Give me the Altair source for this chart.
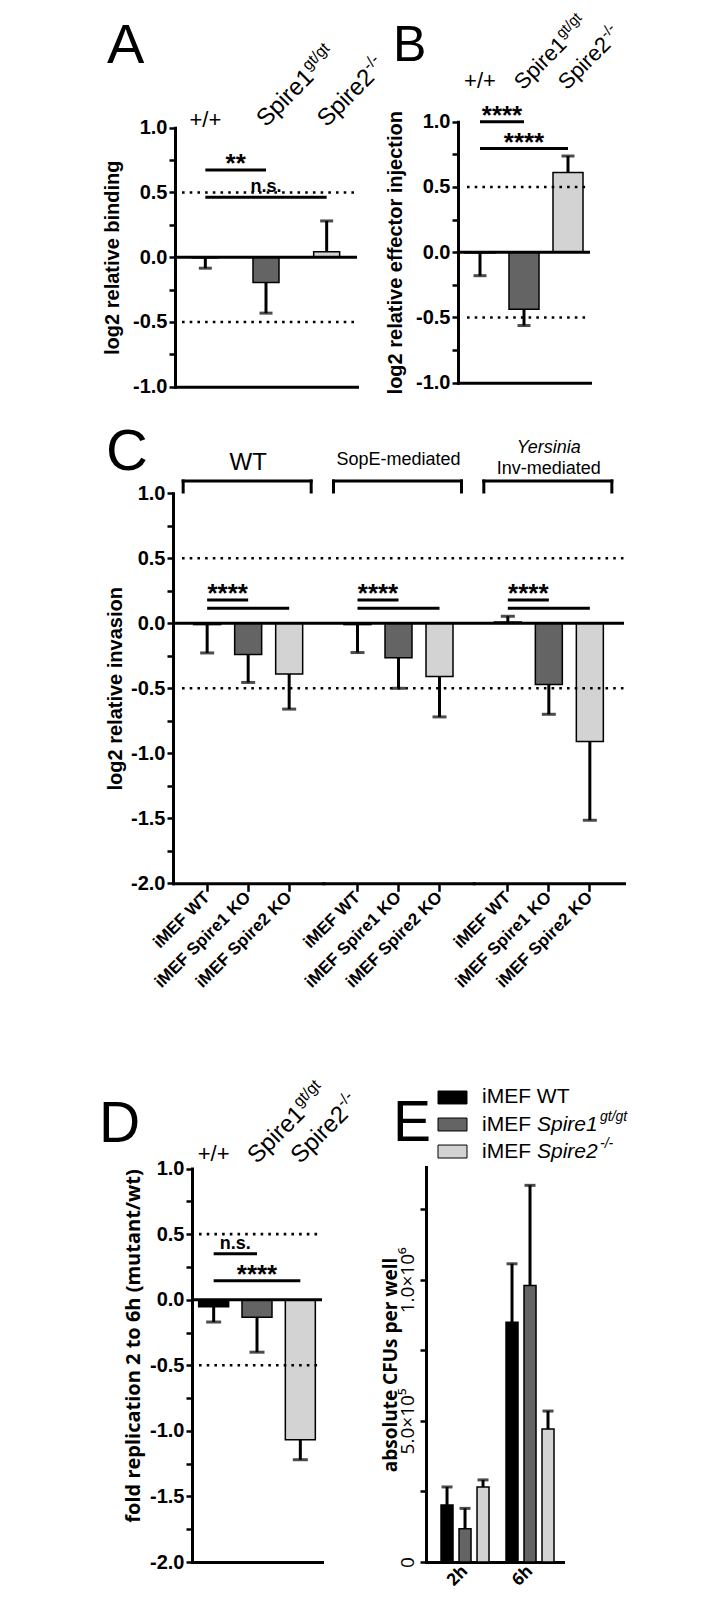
import altair as alt
import pandas as pd

# ---------------- data ----------------
genotypes = ["+/+", "Spire1", "Spire2"]
genotype_fill = ["#000000", "#646464", "#d3d3d3"]
header_names = ["+/+", "Spire1", "Spire2"]
header_super = ["", "gt/gt", "-/-"]
threshold_lines = [0.5, -0.5]

# A  log2 relative binding
binding_mean = [-0.005, -0.196, 0.043]
binding_err = [0.080, 0.236, 0.237]
binding_sig = [["+/+", "Spire1", 0.674, "**"], ["+/+", "Spire2", 0.463, "n.s."]]

# B  log2 relative effector injection
injection_mean = [-0.005, -0.437, 0.610]
injection_err = [0.175, 0.125, 0.127]
injection_sig = [["+/+", "Spire1", 1.0, "****"], ["+/+", "Spire2", 0.794, "****"]]

# C  log2 relative invasion
invasion_labels = ["iMEF WT", "iMEF Spire1 KO", "iMEF Spire2 KO"]
invasion_title_main = ["WT", "SopE-mediated", "Inv-mediated"]
invasion_title_italic = ["", "", "Yersinia"]
invasion_mean_wt = [-0.010, -0.240, -0.390]
invasion_err_wt = [0.218, 0.215, 0.270]
invasion_mean_sope = [-0.010, -0.265, -0.410]
invasion_err_sope = [0.215, 0.235, 0.310]
invasion_mean_yers = [0.010, -0.470, -0.910]
invasion_err_yers = [0.044, 0.230, 0.605]
invasion_sig = [["iMEF WT", "iMEF Spire1 KO", 0.18, "****"],
                ["iMEF WT", "iMEF Spire2 KO", 0.115, ""]]

# D  fold replication 2 to 6h
replication_mean = [-0.054, -0.134, -1.067]
replication_err = [0.116, 0.266, 0.153]
replication_sig = [["+/+", "Spire1", 0.35, "n.s."], ["+/+", "Spire2", 0.144, "****"]]

# E  absolute CFUs per well
cfu_times = ["2h", "6h"]
cfu_mean_2h = [202000, 118000, 266000]
cfu_err_2h = [64000, 72000, 25000]
cfu_mean_6h = [850000, 980000, 471000]
cfu_err_6h = [207000, 355000, 64000]
cfu_legend_plain = ["iMEF WT", "iMEF", "iMEF"]
cfu_legend_italic = ["", "Spire1", "Spire2"]
cfu_legend_super = ["", "gt/gt", "-/-"]

# ---------------- layout (page pixels) ----------------
FONT = "Liberation Sans"
ALT_FONT = "Open Sans"
W, H = 690, 1592
PANEL = {
    "A": dict(x0=175, x1=357, yt=127.7, yb=386.7, dom=[-1.0, 1.0]),
    "B": dict(x0=458, x1=590, yt=121.7, yb=382.7, dom=[-1.0, 1.0]),
    "C": dict(x0=173, x1=624, yt=493.3, yb=883.3, dom=[-2.0, 1.0]),
    "D": dict(x0=192, x1=322, yt=1168.6, yb=1562, dom=[-2.0, 1.0]),
    "E": dict(x0=426, x1=563, yt=1167, yb=1562, dom=[0, 1400000]),
}
one = pd.DataFrame({"one": [0]})


def P(v):
    return v - 8


def yscale(p):
    return alt.Scale(domain=p["dom"], range=[P(p["yb"]), P(p["yt"])], nice=False, zero=False)


def xband(domain, x0, x1, po=0.0, pi=0.0, align=0.5):
    return alt.Scale(type="band", domain=domain, range=[P(x0), P(x1)], paddingInner=pi,
                     paddingOuter=po, align=align)


def band_centers(x0, x1, n, po=0.0, align=0.5):
    step = (x1 - x0) / (n + 2 * po)
    start = x0 + (x1 - x0 - step * n) * align
    return [start + step * (i + 0.5) for i in range(n)], step


AXIS_STYLE = dict(domainColor="black", domainWidth=3, domainCap="square", tickColor="black",
                  tickWidth=2.5, labelColor="black", titleColor="black", grid=False)

HALF_EXPR = ("abs(datum.value*2 - round(datum.value*2)) < 0.001 ? "
             "((datum.value < 0 ? '-' : '') + format(abs(datum.value), '.1f')) : ''")


def left_axis(p, title, title_cx, title_font=FONT, title_size=20, title_cy=None):
    lo, hi = p["dom"]
    n = int(round((hi - lo) / 0.25))
    vals = [lo + 0.25 * i for i in range(n + 1)]
    kw = {}
    if title_cy is not None:
        kw["titleY"] = P(title_cy)
    return alt.Axis(orient="left", offset=-P(p["x0"]), values=vals, labelExpr=HALF_EXPR,
                    labelFont=FONT, labelFontSize=20, labelFontWeight="bold", labelPadding=2,
                    labelOverlap=False, tickSize=6, title=title, titleFont=title_font,
                    titleFontSize=title_size, titleFontWeight="bold", titleAngle=270,
                    titleAlign="center", titleBaseline="middle", titleX=title_cx - p["x0"],
                    **kw, **AXIS_STYLE)


def bottom_axis(p, **kw):
    base = dict(orient="bottom", offset=P(p["yb"]) - H, title=None, labels=False, ticks=False)
    base.update(kw)
    return alt.Axis(**base, **AXIS_STYLE)


def frame(keys, means, errs):
    tips = [m + e if m > 0 else m - e for m, e in zip(means, errs)]
    return pd.DataFrame({"key": keys, "mean": means, "tip": tips,
                         "zero": [0.0] * len(keys), "fill": genotype_fill})


def bar_layers(df, xs, ys, width, cap, xaxis=None, yaxis=None):
    base = alt.Chart(df)
    xn = alt.X("key:N", scale=xs, axis=None)
    return [
        base.mark_bar(width=width, stroke="black", strokeWidth=1.5).encode(
            x=alt.X("key:N", scale=xs, axis=xaxis),
            y=alt.Y("mean:Q", scale=ys, axis=yaxis),
            y2="zero",
            fill=alt.Fill("fill:N", scale=None)),
        base.mark_rule(color="black", strokeWidth=3).encode(
            x=xn, y=alt.Y("mean:Q", scale=ys, axis=None), y2="tip"),
        base.mark_tick(orient="horizontal", color="black", size=cap, thickness=3).encode(
            x=xn, y=alt.Y("tip:Q", scale=ys, axis=None)),
    ]


def guide_layers(p, ys, dot_x0):
    return [
        alt.Chart(pd.DataFrame({"v": threshold_lines})).mark_rule(
            color="black", strokeWidth=2.6, strokeDash=[2.6, 5.1]).encode(
            x=alt.value(P(dot_x0)), x2=alt.value(P(p["x1"])),
            y=alt.Y("v:Q", scale=ys, axis=None)),
        alt.Chart(one).mark_rule(color="black", strokeWidth=3).encode(
            x=alt.value(P(p["x0"])), x2=alt.value(P(p["x1"])),
            y=alt.YDatum(0, scale=ys, axis=None)),
    ]


def sig_layers(sig, keys, xs, ys, step, dy_star=2, dy_ns=-5):
    df = pd.DataFrame(sig, columns=["a", "b", "y", "label"])
    out = [alt.Chart(df).mark_rule(color="black", strokeWidth=3).encode(
        x=alt.X("a:N", scale=xs, axis=None), x2=alt.X2("b"),
        y=alt.Y("y:Q", scale=ys, axis=None))]
    for a, b, y, lab in sig:
        if not lab:
            continue
        star = lab.startswith("*")
        dx = (keys.index(b) - keys.index(a)) * step / 2
        out.append(alt.Chart(one).mark_text(
            text=lab, font=FONT, fontWeight="bold", fontSize=26 if star else 18,
            dx=dx, dy=dy_star if star else dy_ns, align="center", baseline="alphabetic").encode(
            x=alt.XDatum(a, scale=xs, axis=None, type="nominal"),
            y=alt.YDatum(y, scale=ys, axis=None)))
    return out


def header_layers(xs, ys, ytop, plus_dy, rot_xoff, rot_yoff, size=24):
    df = pd.DataFrame({"key": genotypes, "name": header_names, "sup": header_super})
    xn = alt.X("key:N", scale=xs, axis=None)
    yv = alt.YDatum(ytop, scale=ys, axis=None)
    sup_size = round(size * 0.67)
    return [
        alt.Chart(df.iloc[:1]).mark_text(font=FONT, fontSize=22, align="center",
                                         baseline="alphabetic", dy=plus_dy).encode(
            x=xn, y=yv, text="name:N"),
        alt.Chart(df.iloc[1:]).mark_text(font=FONT, fontSize=size, angle=315, align="left",
                                         baseline="alphabetic", xOffset=rot_xoff,
                                         yOffset=rot_yoff).encode(x=xn, y=yv, text="name:N"),
        alt.Chart(df.iloc[1:]).mark_text(font=FONT, fontSize=sup_size, angle=315, align="left",
                                         baseline="alphabetic", xOffset=rot_xoff,
                                         yOffset=rot_yoff, dx=round(size * 2.9),
                                         dy=-round(size * 0.42)).encode(
            x=xn, y=yv, text="sup:N"),
    ]


def letter(ch, x, base, size=56):
    return alt.Chart(one).mark_text(text=ch, font=FONT, fontSize=size, align="left",
                                    baseline="alphabetic").encode(
        x=alt.value(P(x)), y=alt.value(P(base)))


layers = []

# ---------------- Panel A ----------------
pA = PANEL["A"]
xsA, ysA = xband(genotypes, pA["x0"], pA["x1"]), yscale(pA)
stepA = (pA["x1"] - pA["x0"]) / 3
layers += bar_layers(frame(genotypes, binding_mean, binding_err), xsA, ysA, 26, 13,
                     bottom_axis(pA), left_axis(pA, "log2 relative binding", 112.5))
layers += guide_layers(pA, ysA, pA["x0"] + 7)
layers += sig_layers(binding_sig, genotypes, xsA, ysA, stepA)
layers += header_layers(xsA, ysA, 1.0, -1, 0, 0, 24)
layers.append(letter("A", 107, 63))

# ---------------- Panel B ----------------
pB = PANEL["B"]
xsB, ysB = xband(genotypes, pB["x0"], pB["x1"]), yscale(pB)
stepB = (pB["x1"] - pB["x0"]) / 3
layers += bar_layers(frame(genotypes, injection_mean, injection_err), xsB, ysB, 30, 13,
                     bottom_axis(pB), left_axis(pB, "log2 relative effector injection", 395))
layers += guide_layers(pB, ysB, pB["x0"] + 9)
layers += sig_layers(injection_sig, genotypes, xsB, ysB, stepB)
layers += header_layers(xsB, ysB, 1.0, -34, -1, -31, 22)
layers.append(letter("B", 393, 61, 50))

# ---------------- Panel C ----------------
pC = PANEL["C"]
ysC = yscale(pC)
gw = (pC["x1"] - pC["x0"]) / 3
invasion_means = [invasion_mean_wt, invasion_mean_sope, invasion_mean_yers]
invasion_errs = [invasion_err_wt, invasion_err_sope, invasion_err_yers]
title_style = [(24, -23), (18, -28), (18, -19)]
for i in range(3):
    gx0 = pC["x0"] + i * gw
    xs = xband(invasion_labels, gx0, gx0 + gw, po=0.333)
    _, step = band_centers(gx0, gx0 + gw, 3, po=0.333)
    xaxis = bottom_axis(pC, labels=True, ticks=True, tickSize=8, labelAngle=315,
                        labelAlign="right", labelBaseline="middle", labelFont=FONT,
                        labelFontSize=17, labelFontWeight="bold", labelPadding=3)
    yaxis = left_axis(pC, "log2 relative invasion", 115) if i == 0 else None
    layers += bar_layers(frame(invasion_labels, invasion_means[i], invasion_errs[i]),
                         xs, ysC, 27, 14, xaxis, yaxis)
    layers += sig_layers(invasion_sig, invasion_labels, xs, ysC, step)
    # group title
    xm = alt.XDatum(invasion_labels[1], scale=xs, axis=None, type="nominal")
    yt = alt.YDatum(1.0, scale=ysC, axis=None)
    size, tdy = title_style[i]
    layers.append(alt.Chart(one).mark_text(text=invasion_title_main[i], font=FONT, fontSize=size,
                                           align="center", baseline="alphabetic", dy=tdy).encode(
        x=xm, y=yt))
    if invasion_title_italic[i]:
        layers.append(alt.Chart(one).mark_text(text=invasion_title_italic[i], font=FONT,
                                               fontSize=18, fontStyle="italic", align="center",
                                               baseline="alphabetic", dy=-40).encode(x=xm, y=yt))
    # bracket
    xa = alt.XDatum(invasion_labels[0], scale=xs, axis=None, type="nominal")
    xb = alt.XDatum(invasion_labels[2], scale=xs, axis=None, type="nominal")
    st = dict(color="black", strokeWidth=3, strokeCap="square")
    layers.append(alt.Chart(one).mark_rule(xOffset=-24, x2Offset=22, **st).encode(
        x=xa, x2=alt.X2Datum(invasion_labels[2]), y=alt.value(P(481))))
    layers.append(alt.Chart(one).mark_rule(xOffset=-24, **st).encode(
        x=xa, y=alt.value(P(481)), y2=alt.value(P(492))))
    layers.append(alt.Chart(one).mark_rule(xOffset=22, **st).encode(
        x=xb, y=alt.value(P(481)), y2=alt.value(P(492))))
layers += guide_layers(pC, ysC, pC["x0"] + 9)
layers.append(letter("C", 106, 470, 58))

# ---------------- Panel D ----------------
pD = PANEL["D"]
xsD, ysD = xband(genotypes, pD["x0"], pD["x1"]), yscale(pD)
stepD = (pD["x1"] - pD["x0"]) / 3
layers += bar_layers(frame(genotypes, replication_mean, replication_err), xsD, ysD, 30, 15,
                     bottom_axis(pD),
                     left_axis(pD, "fold replication 2 to 6h (mutant/wt)", 133.5,
                               title_font=ALT_FONT, title_size=20, title_cy=1345.5))
layers += guide_layers(pD, ysD, pD["x0"] + 7)
layers += sig_layers(replication_sig, genotypes, xsD, ysD, stepD)
layers += header_layers(xsD, ysD, 1.0, -8, 0, -4, 24)
layers.append(letter("D", 99, 1142, 57))

# ---------------- Panel E ----------------
pE = PANEL["E"]
ysE = yscale(pE)
xtime = xband(cfu_times, pE["x0"], pE["x1"], po=0.054, align=0.93)
time_centers, _ = band_centers(pE["x0"], pE["x1"], 2, po=0.054, align=0.93)
e_ticks = [i * 250000 for i in range(6)]
e_label = ("datum.value == 0 ? '0' : datum.value == 500000 ? '5.0\u00d710\u2075' : "
           "datum.value == 1000000 ? '1.0\u00d710\u2076' : ''")
yaxisE = alt.Axis(orient="left", offset=-P(pE["x0"]), values=e_ticks, labelExpr=e_label,
                  labelAngle=270, labelAlign="center", labelBaseline="bottom",
                  labelFont=ALT_FONT, labelFontSize=19, labelPadding=3, labelOverlap=False,
                  tickSize=6, title="absolute CFUs per well", titleFont=ALT_FONT,
                  titleFontSize=19, titleFontWeight="bold", titleAngle=270, titleAlign="center",
                  titleBaseline="middle", titleX=390 - pE["x0"], **AXIS_STYLE)
xaxisE = bottom_axis(pE, labels=True, labelAngle=315, labelAlign="right",
                     labelBaseline="middle", labelFont=ALT_FONT, labelFontSize=17,
                     labelFontWeight="bold", labelPadding=6)
layers.append(alt.Chart(pd.DataFrame({"time": cfu_times})).mark_bar(opacity=0).encode(
    x=alt.X("time:N", scale=xtime, axis=xaxisE),
    y=alt.YDatum(0, scale=ysE, axis=yaxisE)))
inner_step = 18
for gc, means, errs in zip(time_centers, [cfu_mean_2h, cfu_mean_6h], [cfu_err_2h, cfu_err_6h]):
    xs = xband(genotypes, gc - 1.5 * inner_step, gc + 1.5 * inner_step)
    layers += bar_layers(frame(genotypes, means, errs), xs, ysE, 12, 11)

leg = pd.DataFrame({"row": [0, 1, 2], "fill": genotype_fill, "plain": cfu_legend_plain,
                    "italic": cfu_legend_italic, "sup": cfu_legend_super})
ly = alt.Scale(type="band", domain=[0, 1, 2], range=[P(1091), P(1158)],
               paddingInner=0.52, paddingOuter=0)
yl = alt.Y("row:O", scale=ly, axis=None)
layers.append(alt.Chart(leg).mark_rect(stroke="black", strokeWidth=1).encode(
    x=alt.value(P(438)), x2=alt.value(P(467)), y=yl, fill=alt.Fill("fill:N", scale=None)))
layers.append(alt.Chart(leg).mark_text(font=FONT, fontSize=21, align="left",
                                       baseline="middle").encode(
    x=alt.value(P(482)), y=yl, text="plain:N"))
layers.append(alt.Chart(leg.iloc[1:]).mark_text(font=FONT, fontSize=21, fontStyle="italic",
                                                align="left", baseline="middle").encode(
    x=alt.value(P(537)), y=yl, text="italic:N"))
layers.append(alt.Chart(leg.iloc[1:]).mark_text(font=FONT, fontSize=14, fontStyle="italic",
                                                align="left", baseline="middle", dy=-8).encode(
    x=alt.value(P(600)), y=yl, text="sup:N"))
layers.append(letter("E", 393, 1141, 57))

chart = alt.layer(*layers).resolve_scale(x="independent", y="independent").properties(
    width=W, height=H, autosize=alt.AutoSizeParams(type="none"), padding=0
).configure(background="white").configure_view(stroke=None)

chart.save("out.html", embed_options={"renderer": "svg", "actions": False})
